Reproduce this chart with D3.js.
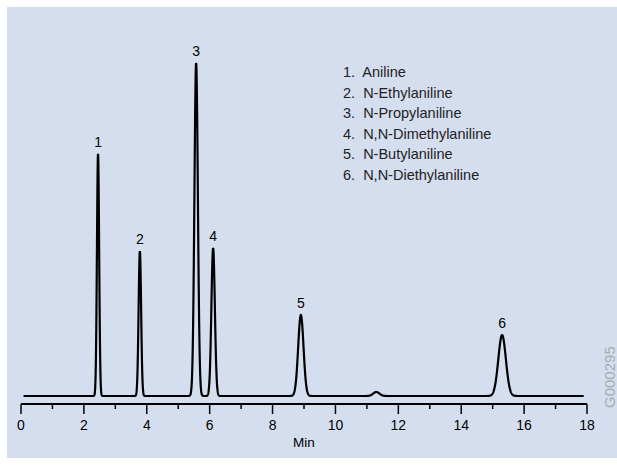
<!DOCTYPE html><html><head><script src="https://cdn.jsdelivr.net/npm/d3@7"></script>
<style>body{margin:0;background:#fff}svg{display:block;font-family:"Liberation Sans",Arial,sans-serif}text{white-space:pre}</style></head><body><script>
const peakLabels=["1","2","3","4","5","6"];
const retention=[2.45,3.78,5.57,6.11,8.9,15.3];
const heights=[72.7,43.5,100,44.4,24.3,18.3];
const widths=[0.035,0.04,0.055,0.055,0.085,0.12];
const minorRT=[11.3], minorH=[1.2], minorW=[0.1];
const compounds=["1.  Aniline","2.  N-Ethylaniline","3.  N-Propylaniline","4.  N,N-Dimethylaniline","5.  N-Butylaniline","6.  N,N-Diethylaniline"];
const xTicks=[0,2,4,6,8,10,12,14,16,18];
const W=617,H=465;
const svg=d3.select("body").append("svg").attr("width",W).attr("height",H);
svg.append("rect").attr("x",0).attr("y",0).attr("width",W).attr("height",H).attr("fill","#fff");
svg.append("rect").attr("x",7).attr("y",7).attr("width",W-7).attr("height",H-14).attr("fill","#d5deef");
const x=d3.scaleLinear().domain([0,18]).range([21,587]);
const y=d3.scaleLinear().domain([0,100]).range([396,63]);
const sig=t=>{let s=0;retention.forEach((r,i)=>s+=heights[i]*Math.exp(-0.5*((t-r)/widths[i])**2));
 minorRT.forEach((r,i)=>s+=minorH[i]*Math.exp(-0.5*((t-r)/minorW[i])**2));return s;};
const ts=d3.range(0.08,17.9,0.005);
svg.append("path").datum(ts).attr("d",d3.line().x(t=>x(t)).y(t=>y(sig(t)))).attr("fill","none").attr("stroke","#000").attr("stroke-width",2.2);
const ax=svg.append("g").attr("transform","translate(0,404)");
ax.append("line").attr("x1",x(0)).attr("x2",x(18)).attr("stroke","#000").attr("stroke-width",2);
ax.selectAll(".mn").data(d3.range(0,19)).join("line").attr("x1",d=>x(d)).attr("x2",d=>x(d)).attr("y1",0).attr("y2",d=>d%2==0?10:5).attr("stroke","#000").attr("stroke-width",1.5);
ax.selectAll("text").data(xTicks).join("text").attr("x",d=>x(d)).attr("y",26).attr("text-anchor","middle").attr("font-size",14).text(d=>d);
svg.append("text").attr("x",x(9)).attr("y",447).attr("text-anchor","middle").attr("font-size",13.5).text("Min");
svg.selectAll(".pl").data(retention).join("text").attr("x",d=>x(d)).attr("y",(d,i)=>y(heights[i])-7).attr("text-anchor","middle").attr("font-size",14).text((d,i)=>peakLabels[i]);
svg.selectAll(".lg").data(compounds).join("text").attr("x",343).attr("y",(d,i)=>77+i*20.5).attr("font-size",14.5).attr("fill","#222").text(d=>d);
svg.append("text").attr("transform","translate(615,408) rotate(-90)").attr("font-size",15).attr("fill","#a8aab0").text("G000295");
</script></body></html>
